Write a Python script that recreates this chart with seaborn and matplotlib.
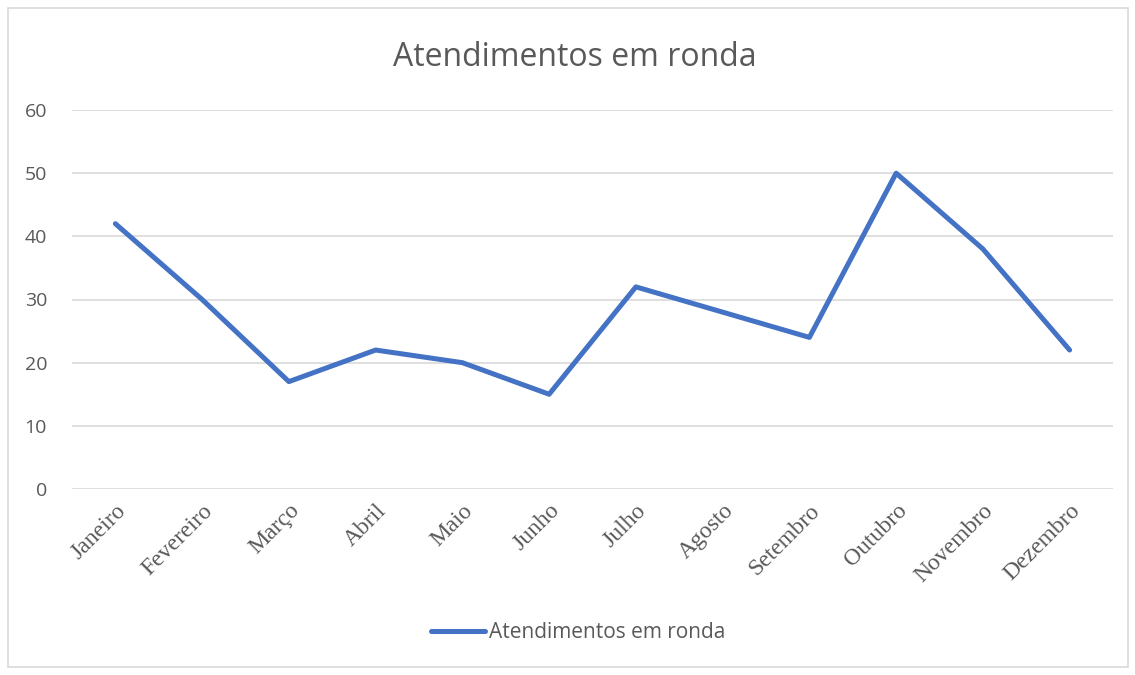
import matplotlib
matplotlib.use("Agg")
import matplotlib.pyplot as plt
import pandas as pd
import seaborn as sns
from matplotlib.patches import Rectangle

months = ["Janeiro", "Fevereiro", "Março", "Abril", "Maio", "Junho",
          "Julho", "Agosto", "Setembro", "Outubro", "Novembro", "Dezembro"]
atendimentos = [42, 30, 17, 22, 20, 15, 32, 28, 24, 50, 38, 22]
series_name = "Atendimentos em ronda"
y_ticks = [0, 10, 20, 30, 40, 50, 60]

TEXT = "#595959"
BLUE = "#4472C4"
GRID = "#D9D9D9"

sns.set_style("white")
plt.rcParams["font.family"] = ["Open Sans", "DejaVu Sans"]

df = pd.DataFrame({"mes": months, "valor": atendimentos})

fig = plt.figure(figsize=(11.35, 6.75), dpi=100)
ax = fig.add_axes([72 / 1135, 1 - 489 / 675, (1113 - 72) / 1135, (489 - 110) / 675])

sns.lineplot(data=df, x="mes", y="valor", sort=False, color=BLUE,
             linewidth=3.6, label=series_name, ax=ax)

ax.set_xlim(-0.5, len(months) - 0.5)
ax.set_ylim(0, 60)
ax.set_yticks(y_ticks)
ax.yaxis.grid(True, color=GRID, linewidth=1.2)
ax.set_axisbelow(True)
for s in ax.spines.values():
    s.set_visible(False)
ax.set_xlabel("")
ax.set_ylabel("")
ax.tick_params(axis="both", length=0)
ax.tick_params(axis="y", labelsize=14, labelcolor=TEXT, pad=18)
ax.set_xticks(range(len(months)))
ax.set_xticklabels(months, rotation=45, ha="right", rotation_mode="anchor",
                   family=["Liberation Serif"], fontsize=17, color=TEXT)
ax.tick_params(axis="x", pad=8)

fig.text(575 / 1135, 1 - 57 / 675, series_name, ha="center", va="center",
         fontsize=23, color=TEXT)

leg = ax.legend(loc="center", bbox_to_anchor=(578 / 1135, 1 - 633 / 675),
                bbox_transform=fig.transFigure, frameon=False, fontsize=15,
                handlelength=2.6, handletextpad=0.2)
for t in leg.get_texts():
    t.set_color(TEXT)

fig.patches.append(Rectangle((8 / 1135, 8 / 675), 1120 / 1135, 659 / 675,
                             transform=fig.transFigure, fill=False,
                             edgecolor=GRID, linewidth=1.2))

fig.savefig("out.png", dpi=100)
